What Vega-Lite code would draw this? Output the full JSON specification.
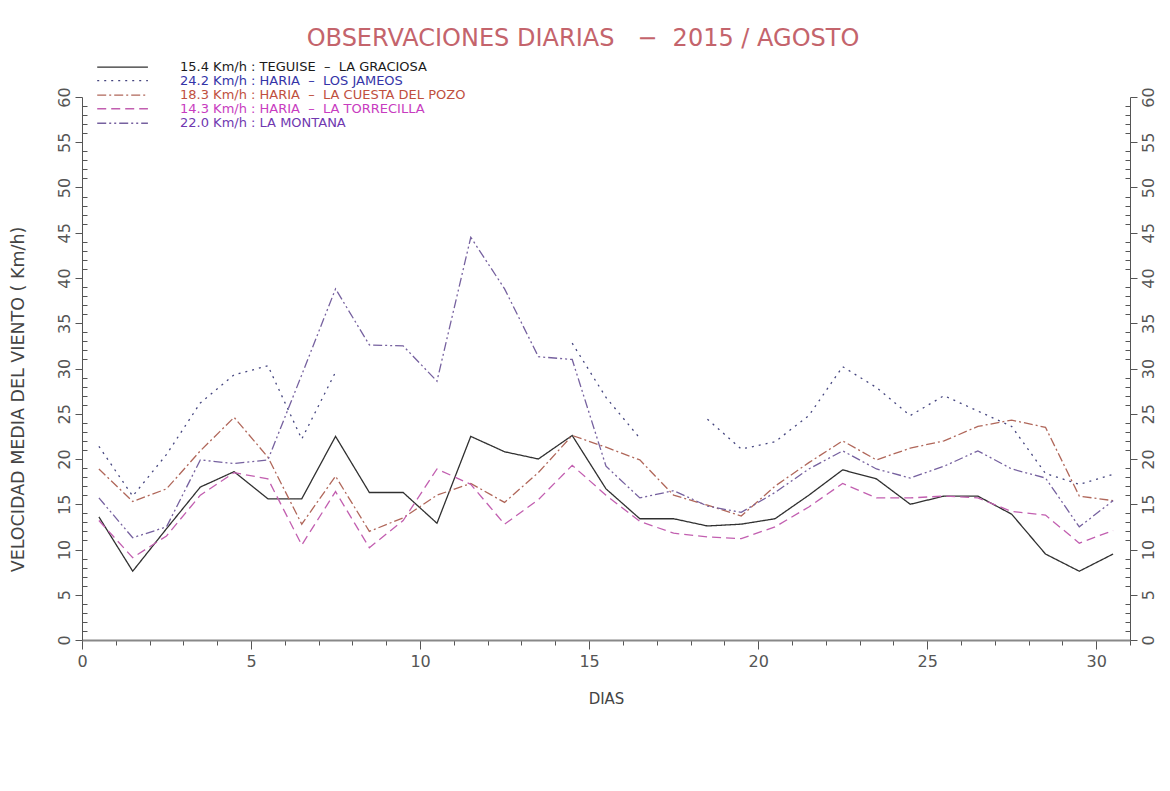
{
  "$schema": "https://vega.github.io/schema/vega-lite/v6.json",
  "width": 1048,
  "height": 543,
  "autosize": {"type": "none"},
  "padding": {"left": 82, "top": 97, "right": 40, "bottom": 151},
  "background": "white",
  "title": {"text": "OBSERVACIONES DIARIAS\u00a0\u00a0\u00a0−\u00a0\u00a02015 / AGOSTO", "font": "DejaVu Sans", "fontSize": 24, "fontWeight": "normal", "color": "#c4646c", "anchor": "middle", "frame": "group", "offset": 10, "dx": -23},
  "config": {"view": {"stroke": null}, "axis": {"grid": false, "labelFont": "DejaVu Sans", "titleFont": "DejaVu Sans", "labelOverlap": false}},
  "datasets": {
    "obs": [
      {"serie":"TEG","tramo":"a","dia":0.5,"v":13.6},{"serie":"TEG","tramo":"a","dia":1.5,"v":7.6},{"serie":"TEG","tramo":"a","dia":2.5,"v":12.3},{"serie":"TEG","tramo":"a","dia":3.5,"v":16.9},{"serie":"TEG","tramo":"a","dia":4.5,"v":18.6},{"serie":"TEG","tramo":"a","dia":5.5,"v":15.6},{"serie":"TEG","tramo":"a","dia":6.5,"v":15.6},{"serie":"TEG","tramo":"a","dia":7.5,"v":22.5},{"serie":"TEG","tramo":"a","dia":8.5,"v":16.3},{"serie":"TEG","tramo":"a","dia":9.5,"v":16.3},{"serie":"TEG","tramo":"a","dia":10.5,"v":12.9},{"serie":"TEG","tramo":"a","dia":11.5,"v":22.5},{"serie":"TEG","tramo":"a","dia":12.5,"v":20.8},{"serie":"TEG","tramo":"a","dia":13.5,"v":20.0},{"serie":"TEG","tramo":"a","dia":14.5,"v":22.6},{"serie":"TEG","tramo":"a","dia":15.5,"v":16.7},{"serie":"TEG","tramo":"a","dia":16.5,"v":13.4},{"serie":"TEG","tramo":"a","dia":17.5,"v":13.4},{"serie":"TEG","tramo":"a","dia":18.5,"v":12.6},{"serie":"TEG","tramo":"a","dia":19.5,"v":12.8},{"serie":"TEG","tramo":"a","dia":20.5,"v":13.4},{"serie":"TEG","tramo":"a","dia":21.5,"v":16.0},{"serie":"TEG","tramo":"a","dia":22.5,"v":18.8},{"serie":"TEG","tramo":"a","dia":23.5,"v":17.8},{"serie":"TEG","tramo":"a","dia":24.5,"v":15.0},{"serie":"TEG","tramo":"a","dia":25.5,"v":15.9},{"serie":"TEG","tramo":"a","dia":26.5,"v":15.9},{"serie":"TEG","tramo":"a","dia":27.5,"v":13.9},{"serie":"TEG","tramo":"a","dia":28.5,"v":9.5},{"serie":"TEG","tramo":"a","dia":29.5,"v":7.6},{"serie":"TEG","tramo":"a","dia":30.5,"v":9.5},
      {"serie":"JAM","tramo":"a","dia":0.5,"v":21.4},{"serie":"JAM","tramo":"a","dia":1.5,"v":15.9},{"serie":"JAM","tramo":"a","dia":2.5,"v":20.5},{"serie":"JAM","tramo":"a","dia":3.5,"v":26.2},{"serie":"JAM","tramo":"a","dia":4.5,"v":29.3},{"serie":"JAM","tramo":"a","dia":5.5,"v":30.3},{"serie":"JAM","tramo":"a","dia":6.5,"v":22.2},{"serie":"JAM","tramo":"a","dia":7.5,"v":29.6},
      {"serie":"JAM","tramo":"b","dia":14.5,"v":32.8},{"serie":"JAM","tramo":"b","dia":15.5,"v":26.8},{"serie":"JAM","tramo":"b","dia":16.5,"v":22.3},
      {"serie":"JAM","tramo":"c","dia":18.5,"v":24.4},{"serie":"JAM","tramo":"c","dia":19.5,"v":21.1},{"serie":"JAM","tramo":"c","dia":20.5,"v":21.9},{"serie":"JAM","tramo":"c","dia":21.5,"v":24.8},{"serie":"JAM","tramo":"c","dia":22.5,"v":30.2},{"serie":"JAM","tramo":"c","dia":23.5,"v":27.9},{"serie":"JAM","tramo":"c","dia":24.5,"v":24.8},{"serie":"JAM","tramo":"c","dia":25.5,"v":27.0},{"serie":"JAM","tramo":"c","dia":26.5,"v":25.3},{"serie":"JAM","tramo":"c","dia":27.5,"v":23.6},{"serie":"JAM","tramo":"c","dia":28.5,"v":18.4},{"serie":"JAM","tramo":"c","dia":29.5,"v":17.2},{"serie":"JAM","tramo":"c","dia":30.5,"v":18.3},
      {"serie":"CUE","tramo":"a","dia":0.5,"v":18.9},{"serie":"CUE","tramo":"a","dia":1.5,"v":15.3},{"serie":"CUE","tramo":"a","dia":2.5,"v":16.7},{"serie":"CUE","tramo":"a","dia":3.5,"v":20.9},{"serie":"CUE","tramo":"a","dia":4.5,"v":24.6},{"serie":"CUE","tramo":"a","dia":5.5,"v":20.2},{"serie":"CUE","tramo":"a","dia":6.5,"v":12.8},{"serie":"CUE","tramo":"a","dia":7.5,"v":18.1},{"serie":"CUE","tramo":"a","dia":8.5,"v":12.0},{"serie":"CUE","tramo":"a","dia":9.5,"v":13.5},{"serie":"CUE","tramo":"a","dia":10.5,"v":16.0},{"serie":"CUE","tramo":"a","dia":11.5,"v":17.3},{"serie":"CUE","tramo":"a","dia":12.5,"v":15.2},{"serie":"CUE","tramo":"a","dia":13.5,"v":18.5},{"serie":"CUE","tramo":"a","dia":14.5,"v":22.6},{"serie":"CUE","tramo":"a","dia":15.5,"v":21.3},{"serie":"CUE","tramo":"a","dia":16.5,"v":19.9},{"serie":"CUE","tramo":"a","dia":17.5,"v":16.0},{"serie":"CUE","tramo":"a","dia":18.5,"v":14.9},{"serie":"CUE","tramo":"a","dia":19.5,"v":13.7},{"serie":"CUE","tramo":"a","dia":20.5,"v":17.0},{"serie":"CUE","tramo":"a","dia":21.5,"v":19.6},{"serie":"CUE","tramo":"a","dia":22.5,"v":22.0},{"serie":"CUE","tramo":"a","dia":23.5,"v":19.9},{"serie":"CUE","tramo":"a","dia":24.5,"v":21.2},{"serie":"CUE","tramo":"a","dia":25.5,"v":22.0},{"serie":"CUE","tramo":"a","dia":26.5,"v":23.6},{"serie":"CUE","tramo":"a","dia":27.5,"v":24.3},{"serie":"CUE","tramo":"a","dia":28.5,"v":23.5},{"serie":"CUE","tramo":"a","dia":29.5,"v":15.9},{"serie":"CUE","tramo":"a","dia":30.5,"v":15.4},
      {"serie":"TOR","tramo":"a","dia":0.5,"v":13.2},{"serie":"TOR","tramo":"a","dia":1.5,"v":9.1},{"serie":"TOR","tramo":"a","dia":2.5,"v":11.5},{"serie":"TOR","tramo":"a","dia":3.5,"v":16.0},{"serie":"TOR","tramo":"a","dia":4.5,"v":18.5},{"serie":"TOR","tramo":"a","dia":5.5,"v":17.8},{"serie":"TOR","tramo":"a","dia":6.5,"v":10.5},{"serie":"TOR","tramo":"a","dia":7.5,"v":16.4},{"serie":"TOR","tramo":"a","dia":8.5,"v":10.2},{"serie":"TOR","tramo":"a","dia":9.5,"v":13.2},{"serie":"TOR","tramo":"a","dia":10.5,"v":18.9},{"serie":"TOR","tramo":"a","dia":11.5,"v":17.2},{"serie":"TOR","tramo":"a","dia":12.5,"v":12.8},{"serie":"TOR","tramo":"a","dia":13.5,"v":15.5},{"serie":"TOR","tramo":"a","dia":14.5,"v":19.3},{"serie":"TOR","tramo":"a","dia":15.5,"v":16.0},{"serie":"TOR","tramo":"a","dia":16.5,"v":13.1},{"serie":"TOR","tramo":"a","dia":17.5,"v":11.8},{"serie":"TOR","tramo":"a","dia":18.5,"v":11.4},{"serie":"TOR","tramo":"a","dia":19.5,"v":11.2},{"serie":"TOR","tramo":"a","dia":20.5,"v":12.5},{"serie":"TOR","tramo":"a","dia":21.5,"v":14.7},{"serie":"TOR","tramo":"a","dia":22.5,"v":17.3},{"serie":"TOR","tramo":"a","dia":23.5,"v":15.7},{"serie":"TOR","tramo":"a","dia":24.5,"v":15.7},{"serie":"TOR","tramo":"a","dia":25.5,"v":15.9},{"serie":"TOR","tramo":"a","dia":26.5,"v":15.7},{"serie":"TOR","tramo":"a","dia":27.5,"v":14.2},{"serie":"TOR","tramo":"a","dia":28.5,"v":13.8},{"serie":"TOR","tramo":"a","dia":29.5,"v":10.7},{"serie":"TOR","tramo":"a","dia":30.5,"v":12.1},
      {"serie":"MON","tramo":"a","dia":0.5,"v":15.7},{"serie":"MON","tramo":"a","dia":1.5,"v":11.3},{"serie":"MON","tramo":"a","dia":2.5,"v":12.5},{"serie":"MON","tramo":"a","dia":3.5,"v":19.9},{"serie":"MON","tramo":"a","dia":4.5,"v":19.5},{"serie":"MON","tramo":"a","dia":5.5,"v":19.9},{"serie":"MON","tramo":"a","dia":6.5,"v":29.3},{"serie":"MON","tramo":"a","dia":7.5,"v":38.8},{"serie":"MON","tramo":"a","dia":8.5,"v":32.6},{"serie":"MON","tramo":"a","dia":9.5,"v":32.5},{"serie":"MON","tramo":"a","dia":10.5,"v":28.6},{"serie":"MON","tramo":"a","dia":11.5,"v":44.5},{"serie":"MON","tramo":"a","dia":12.5,"v":38.8},{"serie":"MON","tramo":"a","dia":13.5,"v":31.3},{"serie":"MON","tramo":"a","dia":14.5,"v":31.0},{"serie":"MON","tramo":"a","dia":15.5,"v":19.2},{"serie":"MON","tramo":"a","dia":16.5,"v":15.7},{"serie":"MON","tramo":"a","dia":17.5,"v":16.5},{"serie":"MON","tramo":"a","dia":18.5,"v":14.8},{"serie":"MON","tramo":"a","dia":19.5,"v":14.1},{"serie":"MON","tramo":"a","dia":20.5,"v":16.3},{"serie":"MON","tramo":"a","dia":21.5,"v":18.9},{"serie":"MON","tramo":"a","dia":22.5,"v":20.9},{"serie":"MON","tramo":"a","dia":23.5,"v":18.9},{"serie":"MON","tramo":"a","dia":24.5,"v":17.9},{"serie":"MON","tramo":"a","dia":25.5,"v":19.2},{"serie":"MON","tramo":"a","dia":26.5,"v":20.9},{"serie":"MON","tramo":"a","dia":27.5,"v":18.9},{"serie":"MON","tramo":"a","dia":28.5,"v":17.9},{"serie":"MON","tramo":"a","dia":29.5,"v":12.5},{"serie":"MON","tramo":"a","dia":30.5,"v":15.4}
    ],
    "muestras": [
      {"serie":"TEG","dia":0.45,"dia2":1.95,"v":63.3},
      {"serie":"JAM","dia":0.45,"dia2":1.95,"v":61.8},
      {"serie":"CUE","dia":0.45,"dia2":1.95,"v":60.2},
      {"serie":"TOR","dia":0.45,"dia2":1.95,"v":58.7},
      {"serie":"MON","dia":0.45,"dia2":1.95,"v":57.1}
    ],
    "etiquetas": [
      {"serie":"TEG","dia":2.9,"v":63.3,"texto":"15.4 Km/h :\u00a0TEGUISE\u00a0\u00a0–\u00a0\u00a0LA GRACIOSA"},
      {"serie":"JAM","dia":2.9,"v":61.8,"texto":"24.2 Km/h :\u00a0HARIA\u00a0\u00a0–\u00a0\u00a0LOS JAMEOS"},
      {"serie":"CUE","dia":2.9,"v":60.2,"texto":"18.3 Km/h :\u00a0HARIA\u00a0\u00a0–\u00a0\u00a0LA CUESTA DEL POZO"},
      {"serie":"TOR","dia":2.9,"v":58.7,"texto":"14.3 Km/h :\u00a0HARIA\u00a0\u00a0–\u00a0\u00a0LA TORRECILLA"},
      {"serie":"MON","dia":2.9,"v":57.1,"texto":"22.0 Km/h :\u00a0LA MONTANA"}
    ]
  },
  "layer": [
    {
      "data": {"name": "obs"},
      "mark": {"type": "line", "strokeWidth": 1.3},
      "encoding": {
        "x": {"field": "dia", "type": "quantitative", "scale": {"domain": [0, 31], "nice": false, "zero": false},
          "axis": {"title": "DIAS", "values": [0,1,2,3,4,5,6,7,8,9,10,11,12,13,14,15,16,17,18,19,20,21,22,23,24,25,26,27,28,29,30,31],
            "labelExpr": "datum.value % 5 === 0 ? datum.label : ''",
            "labelOverlap": false, "labelFlush": false, "labelBound": false,
            "tickSize": {"condition": {"test": "datum.value % 5 === 0", "value": 9}, "value": 5},
            "tickColor": "#555", "domainColor": "#888", "domainWidth": 2,
            "labelFontSize": 16, "labelColor": "#555", "labelPadding": 4,
            "titleFontSize": 15, "titleFontWeight": "normal", "titleColor": "#444", "titlePadding": 22}},
        "y": {"field": "v", "type": "quantitative", "scale": {"domain": [0, 60], "nice": false},
          "axis": {"orient": "left", "title": "VELOCIDAD MEDIA DEL VIENTO ( Km/h)",
            "values": [0,1,2,3,4,5,6,7,8,9,10,11,12,13,14,15,16,17,18,19,20,21,22,23,24,25,26,27,28,29,30,31,32,33,34,35,36,37,38,39,40,41,42,43,44,45,46,47,48,49,50,51,52,53,54,55,56,57,58,59,60],
            "labelExpr": "datum.value % 5 === 0 ? datum.label : ''",
            "labelOverlap": false,
            "tickSize": {"condition": {"test": "datum.value % 5 === 0", "value": 7}, "value": -5},
            "tickColor": "#555", "domainColor": "#555",
            "labelAngle": -90, "labelAlign": "center", "labelBaseline": "bottom",
            "labelFontSize": 16, "labelColor": "#555", "labelPadding": 3,
            "titleFontSize": 17.5, "titleFontWeight": "normal", "titleColor": "#444",
            "titleX": -55, "titleY": 302}},
        "color": {"field": "serie", "type": "nominal", "legend": null,
          "scale": {"domain": ["TEG","JAM","CUE","TOR","MON"], "range": ["#303030","#45457f","#b0675a","#c25fb0","#76619f"]}},
        "strokeDash": {"field": "serie", "type": "nominal", "legend": null,
          "scale": {"domain": ["TEG","JAM","CUE","TOR","MON"], "range": [[1,0],[2,5],[9,3,2,3],[9,5],[9,3,2,3,2,3]]}},
        "detail": {"field": "tramo"}
      }
    },
    {
      "data": {"name": "muestras"},
      "mark": {"type": "rule", "strokeWidth": 1.3},
      "encoding": {
        "x": {"field": "dia", "type": "quantitative", "axis": null},
        "x2": {"field": "dia2"},
        "y": {"field": "v", "type": "quantitative", "scale": {"domain": [0, 60], "nice": false}, "axis": null},
        "color": {"field": "serie", "type": "nominal", "legend": null,
          "scale": {"domain": ["TEG","JAM","CUE","TOR","MON"], "range": ["#303030","#45457f","#b0675a","#c25fb0","#76619f"]}},
        "strokeDash": {"field": "serie", "type": "nominal", "legend": null}
      }
    },
    {
      "data": {"name": "etiquetas"},
      "mark": {"type": "text", "align": "left", "baseline": "middle", "font": "DejaVu Sans", "fontSize": 13},
      "encoding": {
        "x": {"field": "dia", "type": "quantitative", "axis": null},
        "y": {"field": "v", "type": "quantitative", "scale": {"domain": [0, 60], "nice": false}, "axis": null},
        "text": {"field": "texto"},
        "color": {"field": "serie", "type": "nominal", "legend": null,
          "scale": {"domain": ["TEG","JAM","CUE","TOR","MON"], "range": ["#1a1a1a","#3434a8","#c0503e","#c83cc0","#7038b0"]}}
      }
    },
    {
      "data": {"name": "obs"},
      "mark": {"type": "point", "opacity": 0},
      "encoding": {
        "x": {"field": "dia", "type": "quantitative", "axis": null},
        "y": {"field": "v", "type": "quantitative", "scale": {"domain": [0, 60], "nice": false},
          "axis": {"orient": "right", "title": null,
            "values": [0,1,2,3,4,5,6,7,8,9,10,11,12,13,14,15,16,17,18,19,20,21,22,23,24,25,26,27,28,29,30,31,32,33,34,35,36,37,38,39,40,41,42,43,44,45,46,47,48,49,50,51,52,53,54,55,56,57,58,59,60],
            "labelExpr": "datum.value % 5 === 0 ? datum.label : ''",
            "labelOverlap": false,
            "tickSize": {"condition": {"test": "datum.value % 5 === 0", "value": 7}, "value": -5},
            "tickColor": "#555", "domainColor": "#555",
            "labelAngle": -90, "labelAlign": "center", "labelBaseline": "top",
            "labelFontSize": 16, "labelColor": "#555", "labelPadding": 3}}
      }
    }
  ],
  "resolve": {"scale": {"y": "shared", "x": "shared", "color": "independent"}, "axis": {"y": "independent", "x": "independent"}}
}
